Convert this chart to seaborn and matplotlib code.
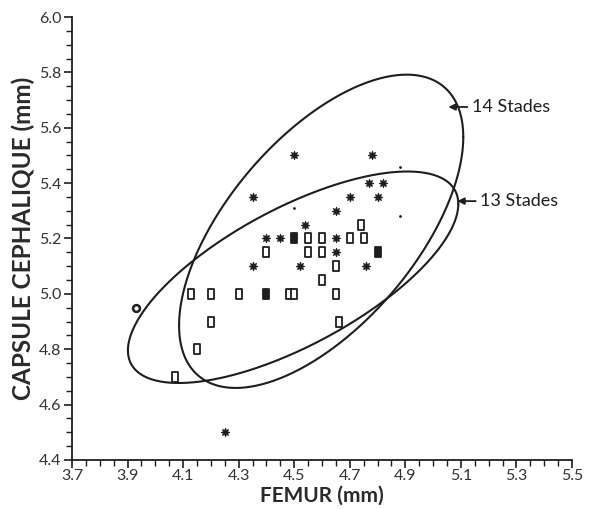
import numpy as np
import pandas as pd
import matplotlib
matplotlib.use("Agg")
import matplotlib.pyplot as plt
from matplotlib.path import Path
from matplotlib.ticker import MultipleLocator, FixedLocator
import seaborn as sns

# ---------------- data ----------------
star_x = [4.50, 4.78, 4.77, 4.82, 4.35, 4.70, 4.80, 4.65, 4.54, 4.40, 4.45, 4.65, 4.65, 4.35, 4.52, 4.76, 4.25]
star_y = [5.50, 5.50, 5.40, 5.40, 5.35, 5.35, 5.35, 5.30, 5.25, 5.20, 5.20, 5.20, 5.15, 5.10, 5.10, 5.10, 4.50]

open_x = [4.55, 4.60, 4.70, 4.75, 4.74, 4.40, 4.55, 4.60, 4.65, 4.60, 4.13, 4.20, 4.30, 4.48, 4.50, 4.65, 4.20, 4.15, 4.07, 4.66]
open_y = [5.20, 5.20, 5.20, 5.20, 5.25, 5.15, 5.15, 5.15, 5.10, 5.05, 5.00, 5.00, 5.00, 5.00, 5.00, 5.00, 4.90, 4.80, 4.70, 4.90]

filled_x = [4.50, 4.80, 4.40]
filled_y = [5.20, 5.15, 5.00]

circle_x = [3.93]
circle_y = [4.95]

dot_x = [4.50, 4.88, 4.88]
dot_y = [5.31, 5.46, 5.28]

# ellipses: label, centre (x, y), covariance-like shape matrix [[sxx, sxy], [sxy, syy]]
ellipse_labels = ["14 Stades", "13 Stades"]
ellipse_centers = [(4.597, 5.226), (4.496, 5.060)]
ellipse_shapes = [[[0.2617, 0.1741], [0.1741, 0.3201]],
                  [[0.3536, 0.1571], [0.1571, 0.1459]]]

x_ticks = [3.7, 3.9, 4.1, 4.3, 4.5, 4.7, 4.9, 5.1, 5.3, 5.5]
y_ticks = [4.4, 4.6, 4.8, 5.0, 5.2, 5.4, 5.6, 5.8, 6.0]

# ---------------- style ----------------
sns.set_theme(style="white")
plt.rcParams["font.family"] = ["Lato", "DejaVu Sans"]
INK = "#1e1e1e"

fig = plt.figure(figsize=(5.91, 5.09), dpi=100)
ax = fig.add_axes([0.1218, 0.0963, 0.8461, 0.8703])

rect = Path([(-0.3, -0.5), (0.3, -0.5), (0.3, 0.5), (-0.3, 0.5), (-0.3, -0.5)],
            [Path.MOVETO, Path.LINETO, Path.LINETO, Path.LINETO, Path.CLOSEPOLY])

df_star = pd.DataFrame({"x": star_x, "y": star_y})
df_open = pd.DataFrame({"x": open_x, "y": open_y})
df_fill = pd.DataFrame({"x": filled_x, "y": filled_y})
df_circ = pd.DataFrame({"x": circle_x, "y": circle_y})
df_dot = pd.DataFrame({"x": dot_x, "y": dot_y})

sns.scatterplot(data=df_star, x="x", y="y", ax=ax, marker=(8, 1, 0), s=38,
                color=INK, edgecolor=INK, linewidth=0.6, zorder=3)
sns.scatterplot(data=df_open, x="x", y="y", ax=ax, marker=rect, s=42,
                facecolor="white", edgecolor=INK, linewidth=1.3, zorder=3)
sns.scatterplot(data=df_fill, x="x", y="y", ax=ax, marker=rect, s=42,
                color=INK, edgecolor=INK, linewidth=1.3, zorder=3)
sns.scatterplot(data=df_circ, x="x", y="y", ax=ax, marker="o", s=24,
                facecolor="white", edgecolor=INK, linewidth=1.8, zorder=3)
sns.scatterplot(data=df_dot, x="x", y="y", ax=ax, marker="o", s=4,
                color=INK, edgecolor=INK, linewidth=0, zorder=3)

t = np.linspace(0, 2 * np.pi, 400)
for center, shape in zip(ellipse_centers, ellipse_shapes):
    L = np.linalg.cholesky(np.array(shape))
    pts = L @ np.vstack([np.cos(t), np.sin(t)])
    ax.plot(center[0] + pts[0], center[1] + pts[1], color=INK, lw=1.5, zorder=2)

ax.annotate(ellipse_labels[0], xy=(5.055, 5.675), xytext=(5.14, 5.675),
            fontsize=13, color=INK, va="center", ha="left",
            arrowprops=dict(arrowstyle="-|>", color=INK, lw=1.3,
                            shrinkA=1, shrinkB=0, mutation_scale=10))
ax.annotate(ellipse_labels[1], xy=(5.087, 5.335), xytext=(5.17, 5.335),
            fontsize=13, color=INK, va="center", ha="left",
            arrowprops=dict(arrowstyle="-|>", color=INK, lw=1.3,
                            shrinkA=1, shrinkB=0, mutation_scale=10))

ax.set_xlim(3.7, 5.5)
ax.set_ylim(4.4, 6.0)
ax.xaxis.set_major_locator(FixedLocator(x_ticks))
ax.yaxis.set_major_locator(FixedLocator(y_ticks))
ax.xaxis.set_minor_locator(MultipleLocator(0.05))
ax.yaxis.set_minor_locator(MultipleLocator(0.05))
ax.set_xticklabels([f"{v:.1f}" for v in x_ticks])
ax.set_yticklabels([f"{v:.1f}" for v in y_ticks])
ax.tick_params(axis="both", which="major", direction="out", length=6, width=1.2,
               color=INK, labelsize=11.5, labelcolor="#333333", pad=1.5,
               bottom=True, left=True)
ax.tick_params(axis="x", which="major", pad=0.5)
ax.tick_params(axis="both", which="minor", direction="out", length=4, width=1.0,
               color=INK, bottom=True, left=True)

for side in ["top", "right"]:
    ax.spines[side].set_visible(False)
for side in ["left", "bottom"]:
    ax.spines[side].set_color(INK)
    ax.spines[side].set_linewidth(1.3)

ax.set_xlabel("FEMUR (mm)", fontsize=15, fontweight="bold", color="#2a2a2a",
              va="center")
ax.xaxis.set_label_coords(0.5, -0.081)
ax.set_ylabel("CAPSULE CEPHALIQUE (mm)", fontsize=17.5, fontweight="bold", color="#2a2a2a", labelpad=3)

fig.savefig("out.png", dpi=100, facecolor="white")
